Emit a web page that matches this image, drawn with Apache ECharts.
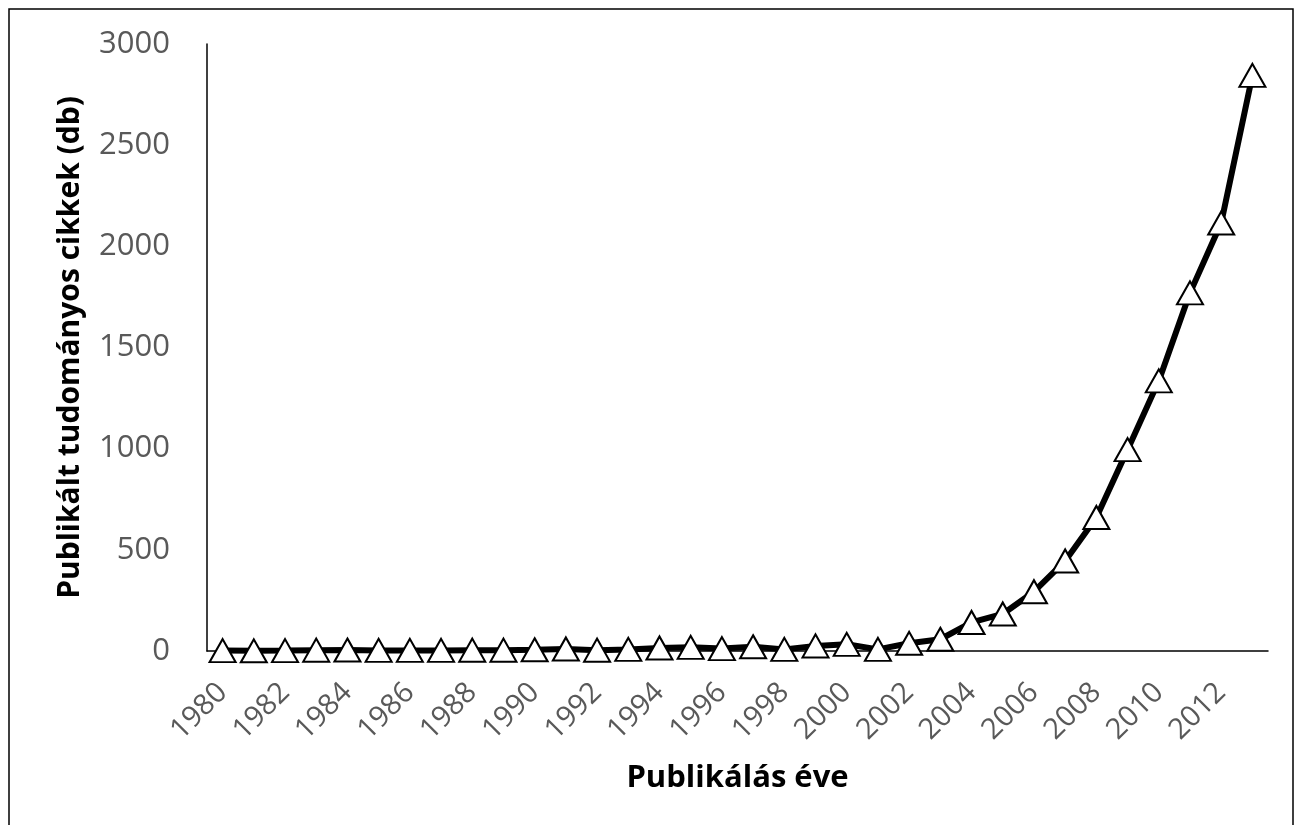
<!DOCTYPE html>
<html>
<head>
<meta charset="utf-8">
<script src="https://cdn.jsdelivr.net/npm/echarts@6/dist/echarts.min.js"></script>
<style>
html, body { margin: 0; padding: 0; background: #fff; }
#chart { width: 1295px; height: 825px; }
</style>
</head>
<body>
<div id="chart"></div>
<script>
var years = ['1980', '1981', '1982', '1983', '1984', '1985', '1986', '1987', '1988', '1989',
    '1990', '1991', '1992', '1993', '1994', '1995', '1996', '1997', '1998', '1999',
    '2000', '2001', '2002', '2003', '2004', '2005', '2006', '2007', '2008', '2009',
    '2010', '2011', '2012', '2013'];
var articles = [2, 1, 2, 4, 5, 3, 3, 3, 4, 4,
    6, 10, 4, 8, 15, 18, 12, 21, 8, 25,
    33, 8, 38, 58, 141, 183, 293, 445, 660, 995,
    1335, 1770, 2115, 2845];
var yTicks = [0, 500, 1000, 1500, 2000, 2500, 3000];

var dom = document.getElementById('chart');
var myChart = echarts.init(dom);

var option = {
    animation: false,
    grid: {
        left: 207,
        right: 27,
        top: 44,
        bottom: 174
    },
    graphic: [
        {
            type: 'rect',
            shape: { x: 9, y: 9, width: 1284, height: 830 },
            style: { fill: 'none', stroke: '#000', lineWidth: 1.5 }
        }
    ],
    xAxis: {
        type: 'category',
        data: years,
        boundaryGap: true,
        name: 'Publikálás éve',
        nameLocation: 'middle',
        nameGap: 112,
        nameTextStyle: {
            fontFamily: 'Open Sans',
            fontWeight: 'bold',
            fontSize: 31,
            color: '#000'
        },
        axisLine: { lineStyle: { color: '#000', width: 1.5 } },
        axisTick: { show: false },
        axisLabel: {
            interval: 1,
            rotate: 45,
            margin: 37,
            fontFamily: 'Open Sans',
            fontSize: 29,
            color: '#595959'
        },
        splitLine: { show: false }
    },
    yAxis: {
        type: 'value',
        min: yTicks[0],
        max: yTicks[yTicks.length - 1],
        interval: 500,
        name: 'Publikált tudományos cikkek (db)',
        nameLocation: 'middle',
        nameGap: 122,
        nameTextStyle: {
            fontFamily: 'Open Sans',
            fontWeight: 'bold',
            fontSize: 30,
            color: '#000'
        },
        axisLine: { show: true, lineStyle: { color: '#000', width: 1.5 } },
        axisTick: { show: false },
        axisLabel: {
            margin: 37,
            fontFamily: 'Open Sans',
            fontSize: 31,
            color: '#595959',
            formatter: function (v) { return String(v); }
        },
        splitLine: { show: false }
    },
    series: [
        {
            type: 'line',
            data: articles,
            symbol: 'triangle',
            symbolSize: [26, 23],
            showAllSymbol: true,
            lineStyle: { color: '#000', width: 6 },
            itemStyle: { color: '#fff', borderColor: '#000', borderWidth: 2 },
            z: 3
        }
    ]
};

myChart.setOption(option, true);

window.addEventListener('resize', function () {
    myChart.resize();
});
</script>
</body>
</html>
